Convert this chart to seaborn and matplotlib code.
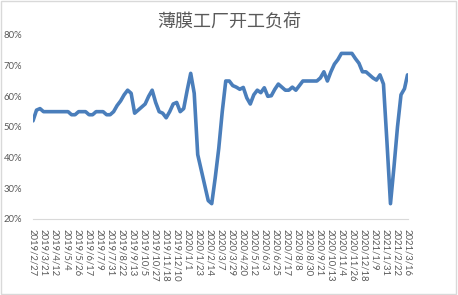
import matplotlib
matplotlib.use("Agg")
import matplotlib.pyplot as plt
import matplotlib.dates as mdates
from matplotlib.patches import Rectangle
import seaborn as sns
import pandas as pd

title = "薄膜工厂开工负荷"

# weekly observation dates (first: 2019/2/27, last: 2021/3/16)
dates = list(pd.date_range("2019-02-27", "2021-03-10", freq="7D")) + [pd.Timestamp("2021-03-16")]

# operating load, %
load = [
    52, 55.5, 56, 55, 55, 55, 55, 55, 55, 55,
    55, 54, 54, 55, 55, 55, 54, 54, 55, 55,
    55, 54, 54, 55, 57, 58.5, 60.5, 62, 61, 54.5,
    55.5, 56.5, 57.5, 60, 62, 58, 55, 54.5, 53, 55,
    57.5, 58, 55, 56, 62, 67.5, 61, 41, 36, 31,
    26, 25, 33.5, 43, 55, 65, 65, 63.5, 63, 62.3,
    62.9, 59.5, 57.5, 60.5, 62, 61.2, 62.8, 60, 60.2, 62.3,
    64, 63, 62, 62, 63, 62, 63.5, 65, 65, 65,
    65, 65, 66, 68, 65, 68, 70.5, 72, 74, 74,
    74, 74, 72.3, 70.8, 68, 68, 67, 66, 65.3, 67,
    64, 45, 25, 37, 50, 60.5, 62.5, 67,
]

# x-axis label dates (every 22 days)
tick_dates = list(pd.date_range("2019-02-27", "2021-03-16", freq="22D"))
y_ticks = [20, 30, 40, 50, 60, 70, 80]

df = pd.DataFrame({"date": dates, "load": load})

sns.set_style("white")
plt.rcParams["font.family"] = ["Lato", "DejaVu Sans"]

fig = plt.figure(figsize=(4.58, 2.95), dpi=100)
ax = fig.add_axes([33 / 458, 1 - 219 / 295, 374.5 / 458, 184 / 295])

sns.lineplot(data=df, x="date", y="load", ax=ax, color="#4A7EBB", linewidth=2.6)

ax.set_xlim(pd.Timestamp("2019-02-27"), pd.Timestamp("2021-03-16"))
ax.set_ylim(20, 80)
ax.set_yticks(y_ticks)
ax.set_yticklabels([f"{v}%" for v in y_ticks])
ax.set_xticks(tick_dates)
ax.set_xticklabels([f"{d.year}/{d.month}/{d.day}" for d in tick_dates],
                   rotation=-90, va="top", ha="center")
ax.set_xlabel("")
ax.set_ylabel("")

for s in ["top", "right", "left"]:
    ax.spines[s].set_visible(False)
ax.spines["bottom"].set_color("#D9D9D9")
ax.spines["bottom"].set_linewidth(0.8)

ax.tick_params(axis="y", length=0, pad=8, labelsize=6.8, labelcolor="#595959")
ax.tick_params(axis="x", length=2.5, width=0.8, color="#D9D9D9", direction="out",
               pad=4.5, labelsize=6.8, labelcolor="#595959")
ax.grid(False)

fig.text(229 / 458, 1 - 22 / 295, title, ha="center", va="center",
         fontsize=13, color="#595959", family=["Noto Sans CJK SC", "DejaVu Sans"])

fig.patches.append(Rectangle((0.002, 0.003), 0.994, 0.993, transform=fig.transFigure,
                             fill=False, edgecolor="#D9D9D9", linewidth=1.0))

fig.savefig("out.png", dpi=100)
